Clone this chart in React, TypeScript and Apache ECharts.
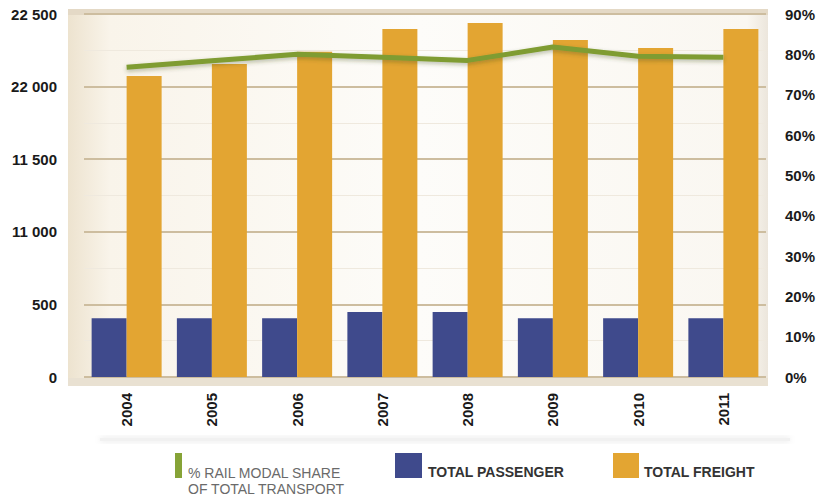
import React, { useEffect, useRef } from "react";
import * as echarts from "echarts";

const years = ["2004", "2005", "2006", "2007", "2008", "2009", "2010", "2011"];
const passenger = [405, 405, 405, 447, 447, 405, 405, 405];
const freight = [2073, 2156, 2240, 2397, 2438, 2321, 2266, 2397];
const railShare = [76.8, 78.4, 80.0, 79.3, 78.5, 81.8, 79.5, 79.3];
const leftTickLabels = ["0", "500", "11 000", "11 500", "22 000", "22 500"];
const legendLabels = ["% RAIL MODAL SHARE\nOF TOTAL TRANSPORT", "TOTAL PASSENGER", "TOTAL FREIGHT"];

const FONT = "'Liberation Sans', Arial, sans-serif";

export default function App() {
  const ref = useRef<HTMLDivElement>(null);
  useEffect(() => {
    document.body.style.margin = "0";
    if (!ref.current) return;
    const chart = echarts.init(ref.current, null, { renderer: "svg" });
    chart.setOption({
      animation: false,
      backgroundColor: "#ffffff",
      grid: { left: 84, right: 55, top: 14, bottom: 120, containLabel: false },
      graphic: [
        {
          type: "rect",
          z: -10,
          silent: true,
          shape: { x: 68, y: 9, width: 700, height: 369 },
          style: {
            fill: new echarts.graphic.LinearGradient(0, 0, 1, 0, [
              { offset: 0, color: "#ede3cf" },
              { offset: 0.06, color: "#f9f4ea" },
              { offset: 0.5, color: "#fdfcf9" },
              { offset: 0.97, color: "#faf7f1" },
              { offset: 1, color: "#ece6dc" },
            ]),
          },
        },
        {
          type: "rect",
          z: -9,
          silent: true,
          shape: { x: 68, y: 9, width: 700, height: 6 },
          style: { fill: "#e4d9c6" },
        },
        {
          type: "rect",
          z: -9,
          silent: true,
          shape: { x: 68, y: 378, width: 700, height: 8 },
          style: { fill: "#e9e1d2" },
        },
        {
          type: "rect",
          z: -9,
          silent: true,
          shape: { x: 100, y: 438, width: 690, height: 3 },
          style: { fill: "#f1f1f1", shadowBlur: 6, shadowColor: "rgba(0,0,0,0.12)" },
        },
        {
          type: "rect",
          shape: { x: 175, y: 453, width: 7, height: 25 },
          style: { fill: "#86a337" },
        },
        {
          type: "text",
          x: 188,
          y: 465,
          style: {
            text: legendLabels[0],
            font: `14px ${FONT}`,
            fill: "#6a6a6a",
            lineHeight: 16,
            verticalAlign: "top",
          },
        },
        {
          type: "rect",
          shape: { x: 395, y: 453, width: 27, height: 25 },
          style: { fill: "#3f4a8c" },
        },
        {
          type: "text",
          x: 428,
          y: 472,
          style: {
            text: legendLabels[1],
            font: `bold 14px ${FONT}`,
            fill: "#333333",
            verticalAlign: "middle",
          },
        },
        {
          type: "rect",
          shape: { x: 613, y: 453, width: 26, height: 25 },
          style: { fill: "#e3a532" },
        },
        {
          type: "text",
          x: 644,
          y: 472,
          style: {
            text: legendLabels[2],
            font: `bold 14px ${FONT}`,
            fill: "#333333",
            verticalAlign: "middle",
          },
        },
      ],
      xAxis: {
        type: "category",
        data: years,
        axisLine: { show: false },
        axisTick: { show: false },
        axisLabel: {
          rotate: 90,
          margin: 16,
          fontFamily: FONT,
          fontWeight: "bold",
          fontSize: 15,
          color: "#1a1a1a",
        },
      },
      yAxis: [
        {
          type: "value",
          min: 0,
          max: 2500,
          interval: 500,
          axisLine: { show: false },
          axisTick: { show: false },
          axisLabel: {
            margin: 27,
            fontFamily: FONT,
            fontWeight: "bold",
            fontSize: 15,
            color: "#1a1a1a",
            padding: [0, 0, 7, 0],
            formatter: (v: number) => leftTickLabels[Math.round(v / 500)] ?? "",
          },
          splitLine: {
            show: true,
            lineStyle: { color: "#cdbd9f", width: 2 },
          },
          minorTick: { show: false, splitNumber: 2 },
          minorSplitLine: { show: true, lineStyle: { color: "#efe9de", width: 1 } },
        },
        {
          type: "value",
          min: 0,
          max: 90,
          interval: 10,
          position: "right",
          axisLine: { show: false },
          axisTick: { show: false },
          splitLine: { show: false },
          axisLabel: {
            margin: 19,
            fontFamily: FONT,
            fontWeight: "bold",
            fontSize: 15,
            color: "#1a1a1a",
            padding: [3, 0, 0, 0],
            formatter: "{value}%",
          },
        },
      ],
      series: [
        {
          name: "TOTAL PASSENGER",
          type: "bar",
          data: passenger,
          barWidth: 35,
          barGap: "0%",
          itemStyle: { color: "#3f4a8c" },
          z: 2,
        },
        {
          name: "TOTAL FREIGHT",
          type: "bar",
          data: freight,
          barWidth: 35,
          barGap: "0%",
          itemStyle: { color: "#e3a532" },
          z: 2,
        },
        {
          name: "% RAIL MODAL SHARE OF TOTAL TRANSPORT",
          type: "line",
          yAxisIndex: 1,
          data: railShare,
          symbol: "none",
          lineStyle: {
            color: "#7f9c31",
            width: 5,
            shadowBlur: 4,
            shadowColor: "rgba(60,70,20,0.35)",
            shadowOffsetY: 2,
          },
          z: 5,
        },
      ],
    });
    return () => chart.dispose();
  }, []);
  return <div ref={ref} style={{ width: 821, height: 497 }} />;
}
